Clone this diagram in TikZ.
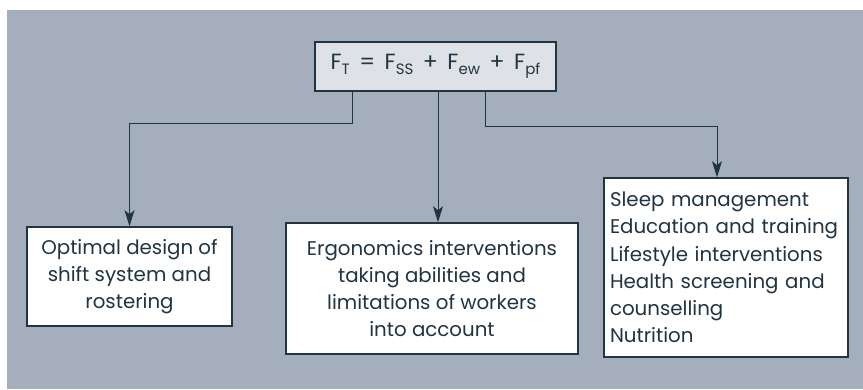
\documentclass[tikz,border=0pt]{standalone}
\usepackage{fontspec}
\setmainfont{Poppins}
\usepackage{tikz}
\usetikzlibrary{arrows.meta,positioning}
\definecolor{panel}{RGB}{165,174,188}
\definecolor{ink}{RGB}{32,52,66}
\definecolor{headfill}{RGB}{222,225,230}
\newcommand{\lowidx}[1]{\raisebox{-4.5pt}{\fontsize{15}{15}\selectfont #1}}
\newcommand{\opsep}[1]{\hspace{9.5pt}#1\hspace{9.5pt}}

\begin{document}
\begin{tikzpicture}[x=1pt,y=-1pt,
    box/.style={draw=ink,line width=1.6pt,fill=white,text=ink,inner sep=4pt,
      font=\fontsize{19.8}{27.3}\selectfont},
    link/.style={ink,line width=0.9pt,-{Stealth[length=16pt,width=10pt,inset=4pt]}}]
    \fill[white](0,0) rectangle (863,389);
    \fill[panel](7,10) rectangle (863,389);
    \node[box,fill=headfill,minimum width=241pt,minimum height=49pt,
      font=\fontsize{22}{26}\selectfont] (sum) at (435.5,66.5)
      {F\lowidx{T}\opsep{=}F\lowidx{SS}\opsep{+}F\lowidx{ew}\opsep{+}F\lowidx{pf}};
    \node[box,align=center,minimum width=205pt,minimum height=99pt] (shift) at (129.5,276.5)
      {Optimal design of\\shift system and\\rostering};
    \node[box,align=center,minimum width=292pt,minimum height=131pt] (ergo) at (432,288.5)
      {Ergonomics interventions\\taking abilities and\\limitations of workers\\into account};
    \node[box,align=left,text width=232pt,minimum width=244pt,minimum height=179pt] (life) at (726,267.5)
      {Sleep management\\Education and training\\Lifestyle interventions\\Health screening and\\counselling\\Nutrition};
    \draw[link]([xshift=-83.5pt]sum.south) -- ++(0,32) -| (shift.north);
    \draw[link]([xshift=2.5pt]sum.south) -- ([xshift=6pt]ergo.north);
    \draw[link]([xshift=49.5pt]sum.south) -- ++(0,35) -| ([xshift=-9pt]life.north);
  \end{tikzpicture}
\end{document}
